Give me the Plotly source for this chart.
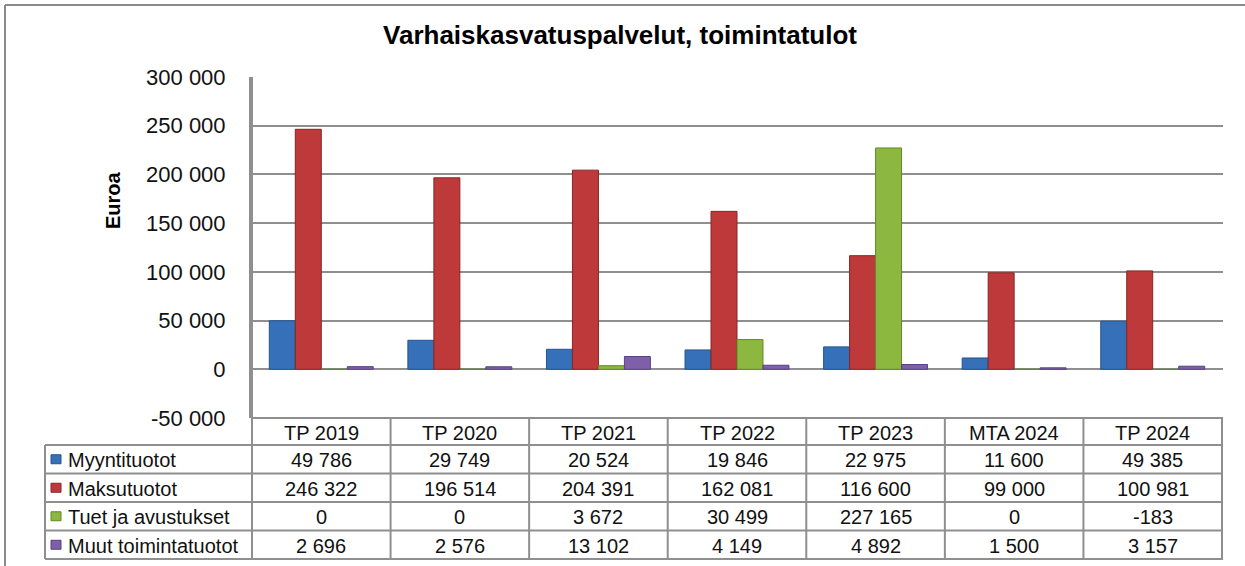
import plotly.graph_objects as go

# ---------------- data ----------------
categories = ["TP 2019", "TP 2020", "TP 2021", "TP 2022", "TP 2023", "MTA 2024", "TP 2024"]
series_names = ["Myyntituotot", "Maksutuotot", "Tuet ja avustukset", "Muut toimintatuotot"]
myyntituotot = [49786, 29749, 20524, 19846, 22975, 11600, 49385]
maksutuotot = [246322, 196514, 204391, 162081, 116600, 99000, 100981]
tuet_ja_avustukset = [0, 0, 3672, 30499, 227165, 0, -183]
muut_toimintatuotot = [2696, 2576, 13102, 4149, 4892, 1500, 3157]
y_ticks = [-50000, 0, 50000, 100000, 150000, 200000, 250000, 300000]
title_text = "Varhaiskasvatuspalvelut, toimintatulot"
y_title = "Euroa"

series_values = [myyntituotot, maksutuotot, tuet_ja_avustukset, muut_toimintatuotot]
colors = ["#3570B8", "#BE3A3A", "#8DB83F", "#7D60A8"]
edge_colors = ["#22548F", "#8A2424", "#64872A", "#574283"]

# ---------------- layout geometry (pixels) ----------------
W, H = 1245, 566
PX0, PX1 = 251, 1223   # plot area x
PY0, PY1 = 77, 418     # plot area y
PW, PH = PX1 - PX0, PY1 - PY0


def px2x(px):
    return (px - PX0) / PW


def py2y(py):
    return (PY1 - py) / PH


def fmt(v):
    s = f"{abs(v):,}".replace(",", " ")
    return ("-" if v < 0 else "") + s


FONT = "Liberation Sans, Arial, sans-serif"
GRID = "#8F8F8F"

fig = go.Figure()
for name, vals, c, ec in zip(series_names, series_values, colors, edge_colors):
    fig.add_trace(go.Bar(
        name=name, x=categories, y=vals,
        marker=dict(color=c, line=dict(color=ec, width=1)),
        showlegend=False,
    ))

shapes = []
annotations = []

# table geometry
header_top, header_bot = 418, 445
row_edges = [445, 473.5, 502, 530.5, 559]
legend_left = 45

line = dict(color=GRID, width=2)
shapes.append(dict(type="line", xref="paper", yref="paper", x0=px2x(PX0), x1=px2x(PX1),
                   y0=py2y(header_top), y1=py2y(header_top), line=line))
for ry in row_edges:
    shapes.append(dict(type="line", xref="paper", yref="paper", x0=px2x(legend_left), x1=px2x(PX1),
                       y0=py2y(ry), y1=py2y(ry), line=line))
shapes.append(dict(type="line", xref="paper", yref="paper", x0=px2x(legend_left), x1=px2x(legend_left),
                   y0=py2y(row_edges[0]), y1=py2y(row_edges[-1]), line=line))
for i in range(len(categories) + 1):
    top = 1 if i == 0 else py2y(header_top)
    shapes.append(dict(type="line", xref="x", yref="paper", x0=i - 0.5, x1=i - 0.5,
                       y0=py2y(row_edges[-1]), y1=top, line=line))

# outer chart border
shapes.append(dict(type="line", xref="paper", yref="paper", x0=px2x(5), x1=px2x(5),
                   y0=py2y(5), y1=py2y(H + 5), line=dict(color="#8A8A8A", width=2)))
shapes.append(dict(type="line", xref="paper", yref="paper", x0=px2x(5), x1=px2x(W + 5),
                   y0=py2y(5), y1=py2y(5), line=dict(color="#8A8A8A", width=2)))

TFS = 20
for cat in categories:
    annotations.append(dict(x=cat, xref="x", y=py2y((header_top + header_bot) / 2 + 1), yref="paper",
                            text=cat, showarrow=False, font=dict(family=FONT, size=TFS, color="#111"),
                            xanchor="center", yanchor="middle"))

for r, (name, vals, c, ec) in enumerate(zip(series_names, series_values, colors, edge_colors)):
    yc = (row_edges[r] + row_edges[r + 1]) / 2
    shapes.append(dict(type="rect", xref="paper", yref="paper",
                       x0=px2x(51), x1=px2x(61), y0=py2y(yc + 4.5), y1=py2y(yc - 4.5),
                       fillcolor=c, line=dict(color=ec, width=1)))
    annotations.append(dict(x=px2x(66), xref="paper", y=py2y(yc + 1), yref="paper", text=name,
                            showarrow=False, font=dict(family=FONT, size=TFS, color="#111"),
                            xanchor="left", yanchor="middle"))
    for cat, v in zip(categories, vals):
        annotations.append(dict(x=cat, xref="x", y=py2y(yc + 1), yref="paper", text=fmt(v),
                                showarrow=False, font=dict(family=FONT, size=TFS, color="#111"),
                                xanchor="center", yanchor="middle"))

annotations.append(dict(x=px2x(113), xref="paper", y=py2y(200), yref="paper", text=f"<b>{y_title}</b>",
                        textangle=-90, showarrow=False, font=dict(family=FONT, size=20, color="#000"),
                        xanchor="center", yanchor="middle"))

fig.update_layout(
    width=W, height=H,
    margin=dict(l=PX0, r=W - PX1, t=PY0, b=H - PY1, pad=0),
    paper_bgcolor="white", plot_bgcolor="white",
    barmode="group", bargap=0.25, bargroupgap=0,
    title=dict(text=f"<b>{title_text}</b>", x=620 / W, xanchor="center", y=1 - 35 / H, yanchor="middle",
               yref="container", font=dict(family=FONT, size=26, color="#000")),
    xaxis=dict(showticklabels=False, showgrid=False, zeroline=False, showline=False, ticks=""),
    yaxis=dict(range=[-50000, 300000], tickvals=y_ticks, ticktext=[fmt(t) for t in y_ticks],
               showgrid=True, gridcolor=GRID,
               gridwidth=2, zeroline=False, showline=True, linecolor=GRID, linewidth=2,
               ticks="", ticklabelstandoff=19, tickfont=dict(family=FONT, size=22, color="#111")),
    shapes=shapes, annotations=annotations,
    font=dict(family=FONT),
)

fig.write_html("out.html", config={"displayModeBar": False},
               post_script="document.body.style.margin='0';document.body.style.overflow='hidden';")
